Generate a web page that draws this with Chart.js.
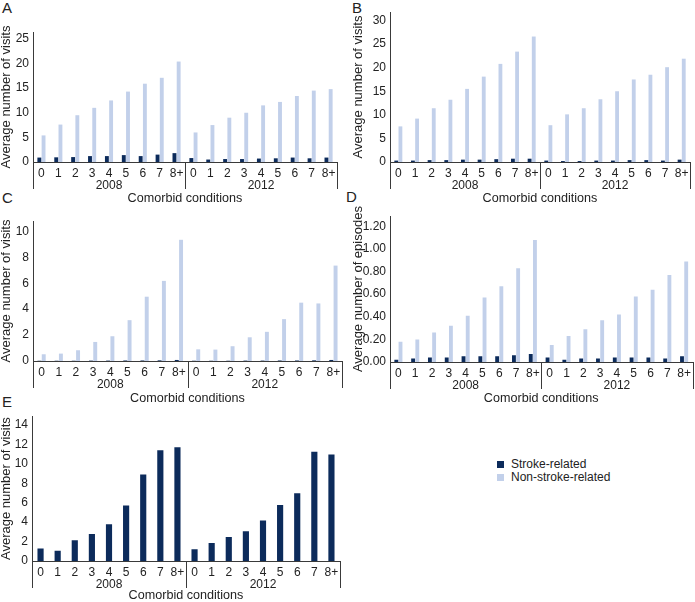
<!DOCTYPE html>
<html>
<head>
<meta charset="utf-8">
<script src="https://cdn.jsdelivr.net/npm/chart.js@4.4.0/dist/chart.umd.min.js"></script>
<style>
body { margin: 0; background: #fff; width: 695px; height: 602px; position: relative; overflow: hidden; font-family: "Liberation Sans", Arial, sans-serif; color: #222; }
canvas { position: absolute; }
.tag { position: absolute; font-size: 15px; line-height: 15px; }
.legend { position: absolute; left: 497px; top: 458px; font-size: 12px; }
.legend div { height: 13px; line-height: 13px; position: relative; padding-left: 14px; }
.legend span { position: absolute; left: 0; top: 3px; width: 7px; height: 7px; }
</style>
</head>
<body>
<div class="tag" style="left:2px;top:0px">A</div>
<div class="tag" style="left:352px;top:0px">B</div>
<div class="tag" style="left:2px;top:190px">C</div>
<div class="tag" style="left:346px;top:189px">D</div>
<div class="tag" style="left:2px;top:394px">E</div>

<canvas id="chartA" width="345" height="205" style="left:0;top:0"></canvas>
<canvas id="chartB" width="350" height="205" style="left:345px;top:0"></canvas>
<canvas id="chartC" width="345" height="200" style="left:0;top:205px"></canvas>
<canvas id="chartD" width="350" height="200" style="left:345px;top:205px"></canvas>
<canvas id="chartE" width="345" height="197" style="left:0;top:405px"></canvas>

<div class="legend" id="legend"></div>

<script>
const conditions = ['0', '1', '2', '3', '4', '5', '6', '7', '8+'];
const years = ['2008', '2012'];
const labels = years.flatMap(() => conditions);

const seriesNames = ['Stroke-related', 'Non-stroke-related'];
const navy = '#0c2b5b';
const light = '#c2d0ea';

// A
const strokeA = [0.9, 0.95, 1.0, 1.2, 1.2, 1.4, 1.2, 1.5, 1.8, 0.8, 0.5, 0.6, 0.6, 0.7, 0.75, 0.9, 0.75, 0.9];
const nonStrokeA = [5.4, 7.6, 9.5, 11.0, 12.5, 14.3, 15.9, 17.1, 20.4, 6.0, 7.5, 9.0, 10.0, 11.5, 12.2, 13.4, 14.5, 14.8];
// B
const strokeB = [0.3, 0.3, 0.4, 0.4, 0.5, 0.5, 0.6, 0.7, 0.7, 0.3, 0.2, 0.2, 0.3, 0.3, 0.4, 0.4, 0.3, 0.5];
const nonStrokeB = [7.55, 9.2, 11.4, 13.2, 15.5, 18.1, 20.8, 23.4, 26.6, 7.8, 10.1, 11.4, 13.3, 15.0, 17.5, 18.5, 20.1, 21.9];
// C
const strokeC = [0.02, 0.02, 0.02, 0.03, 0.03, 0.04, 0.04, 0.05, 0.08, 0.02, 0.02, 0.02, 0.03, 0.03, 0.04, 0.04, 0.05, 0.08];
const nonStrokeC = [0.52, 0.57, 0.83, 1.47, 1.91, 3.15, 4.96, 6.18, 9.35, 0.9, 0.88, 1.14, 1.83, 2.25, 3.23, 4.5, 4.44, 7.36];
// D
const strokeD = [0.02, 0.03, 0.04, 0.04, 0.05, 0.05, 0.05, 0.06, 0.07, 0.04, 0.02, 0.03, 0.03, 0.04, 0.04, 0.04, 0.03, 0.05];
const nonStrokeD = [0.18, 0.20, 0.26, 0.32, 0.41, 0.57, 0.67, 0.83, 1.08, 0.15, 0.23, 0.29, 0.37, 0.42, 0.58, 0.64, 0.77, 0.89];
// E
const strokeE = [1.28, 1.05, 2.14, 2.77, 3.79, 5.7, 8.9, 11.4, 11.7, 1.22, 1.84, 2.47, 3.06, 4.18, 5.76, 6.98, 11.23, 10.97];

const axisColor = '#3a3a3a';
const fontFamily = '"Liberation Sans", Arial, sans-serif';

// year groups under the category axis
const groupAxis = {
    id: 'groupAxis',
    afterDraw(chart) {
        const ctx = chart.ctx;
        const x = chart.scales.x;
        const area = chart.chartArea;
        const n = conditions.length;
        const half = (x.getPixelForValue(1) - x.getPixelForValue(0)) / 2;
        ctx.save();
        ctx.strokeStyle = axisColor;
        ctx.lineWidth = 1;
        for (let g = 0; g <= years.length; g++) {
            const px = Math.round(x.getPixelForValue(g * n) - half) + 0.5;
            ctx.beginPath();
            ctx.moveTo(px, area.bottom);
            ctx.lineTo(px, area.bottom + 27);
            ctx.stroke();
        }
        ctx.fillStyle = '#222';
        ctx.font = '12px ' + fontFamily;
        ctx.textAlign = 'center';
        ctx.textBaseline = 'middle';
        years.forEach((y, g) => {
            const cx = (x.getPixelForValue(g * n) + x.getPixelForValue(g * n + n - 1)) / 2;
            ctx.fillText(y, cx, area.bottom + 24);
        });
        ctx.restore();
    }
};

function makeChart(id, cfg) {
    return new Chart(document.getElementById(id), {
        type: 'bar',
        data: { labels: labels, datasets: cfg.datasets },
        options: {
            responsive: false,
            animation: false,
            layout: { padding: cfg.pad },
            plugins: { legend: { display: false }, tooltip: { enabled: false } },
            datasets: { bar: { categoryPercentage: cfg.catPct, barPercentage: cfg.barPct } },
            scales: {
                x: {
                    grid: { display: false, drawTicks: false },
                    border: { display: true, color: axisColor, width: 1 },
                    ticks: { color: '#222', padding: 4, maxRotation: 0, autoSkip: false, font: { family: fontFamily, size: 12 } },
                    title: { display: true, text: 'Comorbid conditions', color: '#222', padding: 0, font: { family: fontFamily, size: 12.6, lineHeight: 1 } },
                    afterFit: (s) => { s.height = cfg.xHeight; }
                },
                y: {
                    min: 0,
                    max: cfg.max,
                    grid: { display: false, drawTicks: false },
                    border: { display: true, color: axisColor, width: 1 },
                    ticks: {
                        color: '#222',
                        padding: 4,
                        font: { family: fontFamily, size: 12 },
                        callback: (v) => Number(v).toFixed(cfg.decimals)
                    },
                    title: { display: true, text: cfg.yTitle, color: '#222', padding: 0, font: { family: fontFamily, size: 13, lineHeight: 1 } },
                    afterBuildTicks: (s) => {
                        const ticks = [];
                        for (let i = 0; i * cfg.step <= cfg.max + 1e-9; i++) {
                            ticks.push({ value: +(i * cfg.step).toFixed(4) });
                        }
                        s.ticks = ticks;
                    },
                    afterFit: (s) => { s.width = cfg.yWidth; }
                }
            }
        },
        plugins: [groupAxis]
    });
}

function pair(stroke, nonStroke) {
    return [
        { label: seriesNames[0], data: stroke, backgroundColor: navy },
        { label: seriesNames[1], data: nonStroke, backgroundColor: light }
    ];
}

makeChart('chartA', {
    datasets: pair(strokeA, nonStrokeA), yTitle: 'Average number of visits',
    max: 26.4, step: 5, decimals: 0, catPct: 0.5, barPct: 0.92,
    pad: { left: 0, right: 8, top: 32, bottom: 0 }, yWidth: 33, xHeight: 43
});
makeChart('chartB', {
    datasets: pair(strokeB, nonStrokeB), yTitle: 'Average number of visits',
    max: 31.8, step: 5, decimals: 0, catPct: 0.5, barPct: 0.92,
    pad: { left: 7, right: 5, top: 12, bottom: 0 }, yWidth: 38, xHeight: 43
});
makeChart('chartC', {
    datasets: pair(strokeC, nonStrokeC), yTitle: 'Average number of visits',
    max: 10.8, step: 2, decimals: 0, catPct: 0.5, barPct: 0.92,
    pad: { left: 0, right: 3, top: 16, bottom: 0 }, yWidth: 33, xHeight: 44
});
makeChart('chartD', {
    datasets: pair(strokeD, nonStrokeD), yTitle: 'Average number of episodes',
    max: 1.29, step: 0.2, decimals: 2, catPct: 0.5, barPct: 0.92,
    pad: { left: 7, right: 2, top: 2, bottom: 0 }, yWidth: 38, xHeight: 43
});
makeChart('chartE', {
    datasets: [{ label: seriesNames[0], data: strokeE, backgroundColor: navy }],
    yTitle: 'Average number of visits',
    max: 14.9, step: 2, decimals: 0, catPct: 0.36, barPct: 1,
    pad: { left: 0, right: 5, top: 5, bottom: 0 }, yWidth: 32, xHeight: 41
});

// shared legend
const legendEl = document.getElementById('legend');
[navy, light].forEach((c, i) => {
    const row = document.createElement('div');
    row.innerHTML = '<span style="background:' + c + '"></span>' + seriesNames[i];
    legendEl.appendChild(row);
});
</script>
</body>
</html>
